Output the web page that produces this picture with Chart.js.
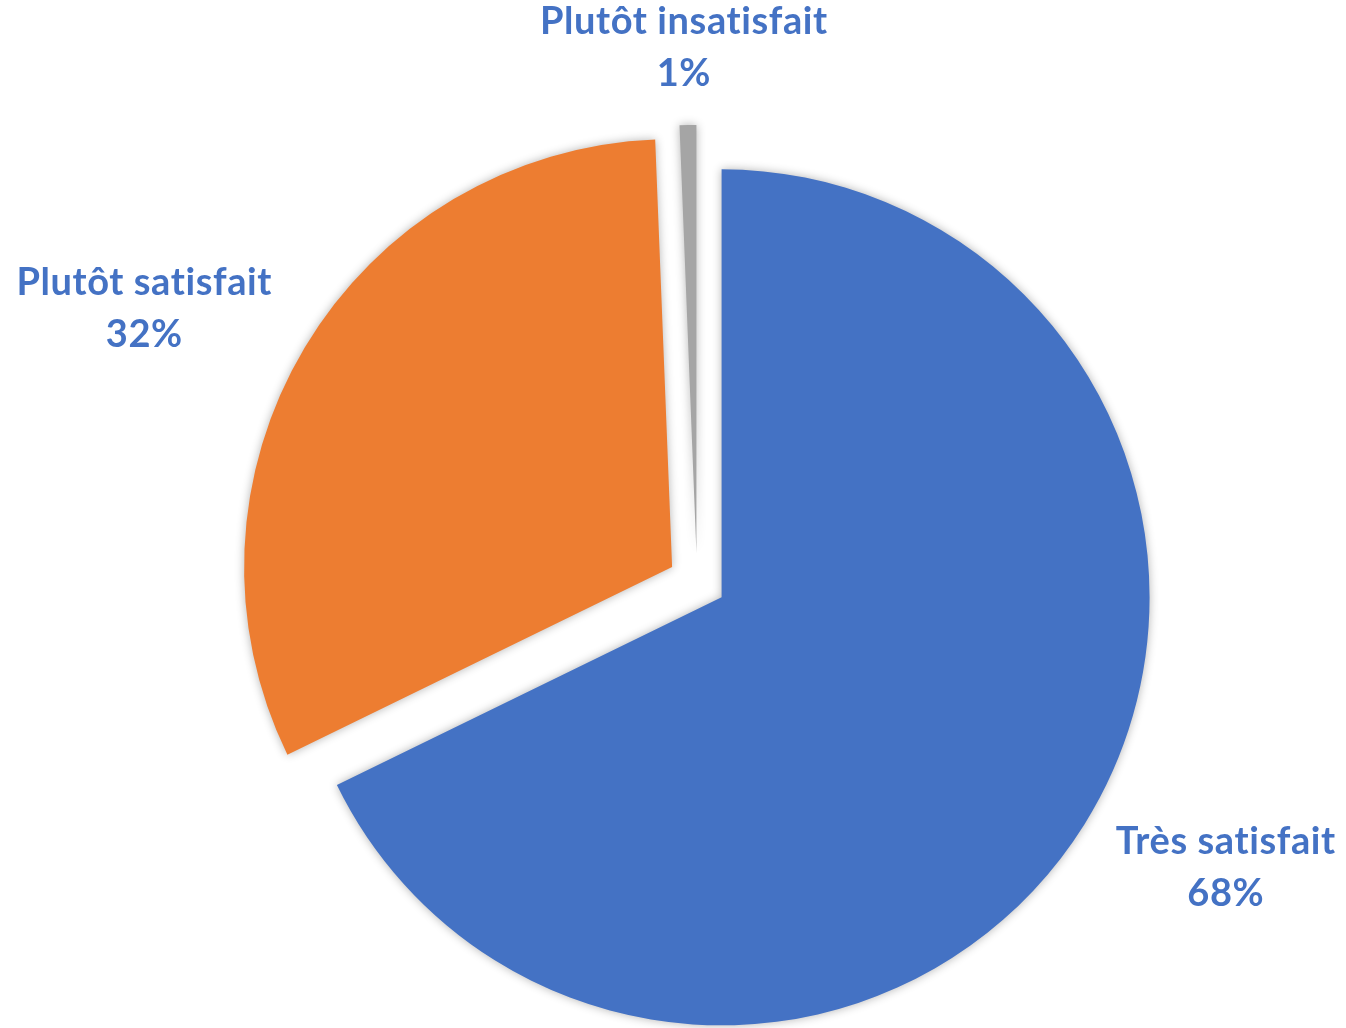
<!DOCTYPE html>
<html>
<head>
<meta charset="utf-8">
<script src="https://cdn.jsdelivr.net/npm/chart.js@4/dist/chart.umd.min.js"></script>
<style>
  html, body { margin: 0; padding: 0; background: #fff; }
  #wrap { width: 1346px; height: 1028px; position: relative; }
</style>
</head>
<body>
<div id="wrap"><canvas id="chart"></canvas></div>
<script>
/* ------------------------------------------------ */

// data
const categories = ['Très satisfait', 'Plutôt satisfait', 'Plutôt insatisfait'];
const shares = [67.8, 31.6, 0.63];
const sliceColors = ['#4472C4', '#ED7D31', '#A5A5A5'];

const labelColor = '#4472C4';
const labelFont = 'bold 38px Lato, "Open Sans", sans-serif';
const explode = 29;

/* ------------------------------------------------ */

// push every slice out from the centre along its own middle angle
const explodePlugin = {
  id: 'explode',
  afterDatasetUpdate(chart, args) {
    let meta = args.meta;
    meta.data.forEach((arc) => {
      let mid = (arc.startAngle + arc.endAngle) / 2;
      arc.x += Math.cos(mid) * explode;
      arc.y += Math.sin(mid) * explode;
    });
  },
};

// soft shadow round the slices
const shadowPlugin = {
  id: 'shadow',
  beforeDatasetsDraw(chart) {
    let ctx = chart.ctx;
    ctx.save();
    ctx.shadowColor = 'rgba(0, 0, 0, 0.3)';
    ctx.shadowBlur = 10;
  },
  afterDatasetsDraw(chart) {
    chart.ctx.restore();
  },
};

// two line labels (name + percentage) outside each slice
const outsideLabels = {
  id: 'outsideLabels',
  afterDraw(chart) {
    let ctx = chart.ctx;
    let meta = chart.getDatasetMeta(0);
    ctx.save();
    ctx.font = labelFont;
    // non-zero spacing also keeps Lato from using its "ti" ligature
    ctx.letterSpacing = '0.6px';
    ctx.fillStyle = labelColor;
    ctx.textAlign = 'center';
    ctx.textBaseline = 'alphabetic';

    meta.data.forEach((arc, i) => {
      let mid = (arc.startAngle + arc.endAngle) / 2;
      let dx = Math.cos(mid);
      let dy = Math.sin(mid);
      let lines = [categories[i], Math.round(shares[i]) + '%'];
      let w = Math.max(...lines.map((t) => ctx.measureText(t).width));
      let blockH = 78;
      let r = arc.outerRadius + 40;
      let cx = arc.x + dx * r + dx * w * 0.575;
      let cy = arc.y + dy * r + dy * blockH / 2;
      ctx.fillText(lines[0], cx, cy - 12);
      ctx.fillText(lines[1], cx, cy + 40);
    });
    ctx.restore();
  },
};

/* ------------------------------------------------ */

function generateChart() {
  let ctx = document.getElementById('chart').getContext('2d');
  let config = {
    type: 'pie',
    data: {
      labels: categories,
      datasets: [{
        data: shares,
        backgroundColor: sliceColors,
        borderWidth: 0,
      }],
    },
    options: {
      responsive: true,
      maintainAspectRatio: false,
      animation: false,
      events: [],
      layout: {
        padding: { left: 269, right: 221, top: 154, bottom: 18 },
      },
      plugins: {
        legend: { display: false },
        tooltip: { enabled: false },
      },
    },
    plugins: [explodePlugin, shadowPlugin, outsideLabels],
  };
  return new Chart(ctx, config);
}

let chart = generateChart();
</script>
</body>
</html>
